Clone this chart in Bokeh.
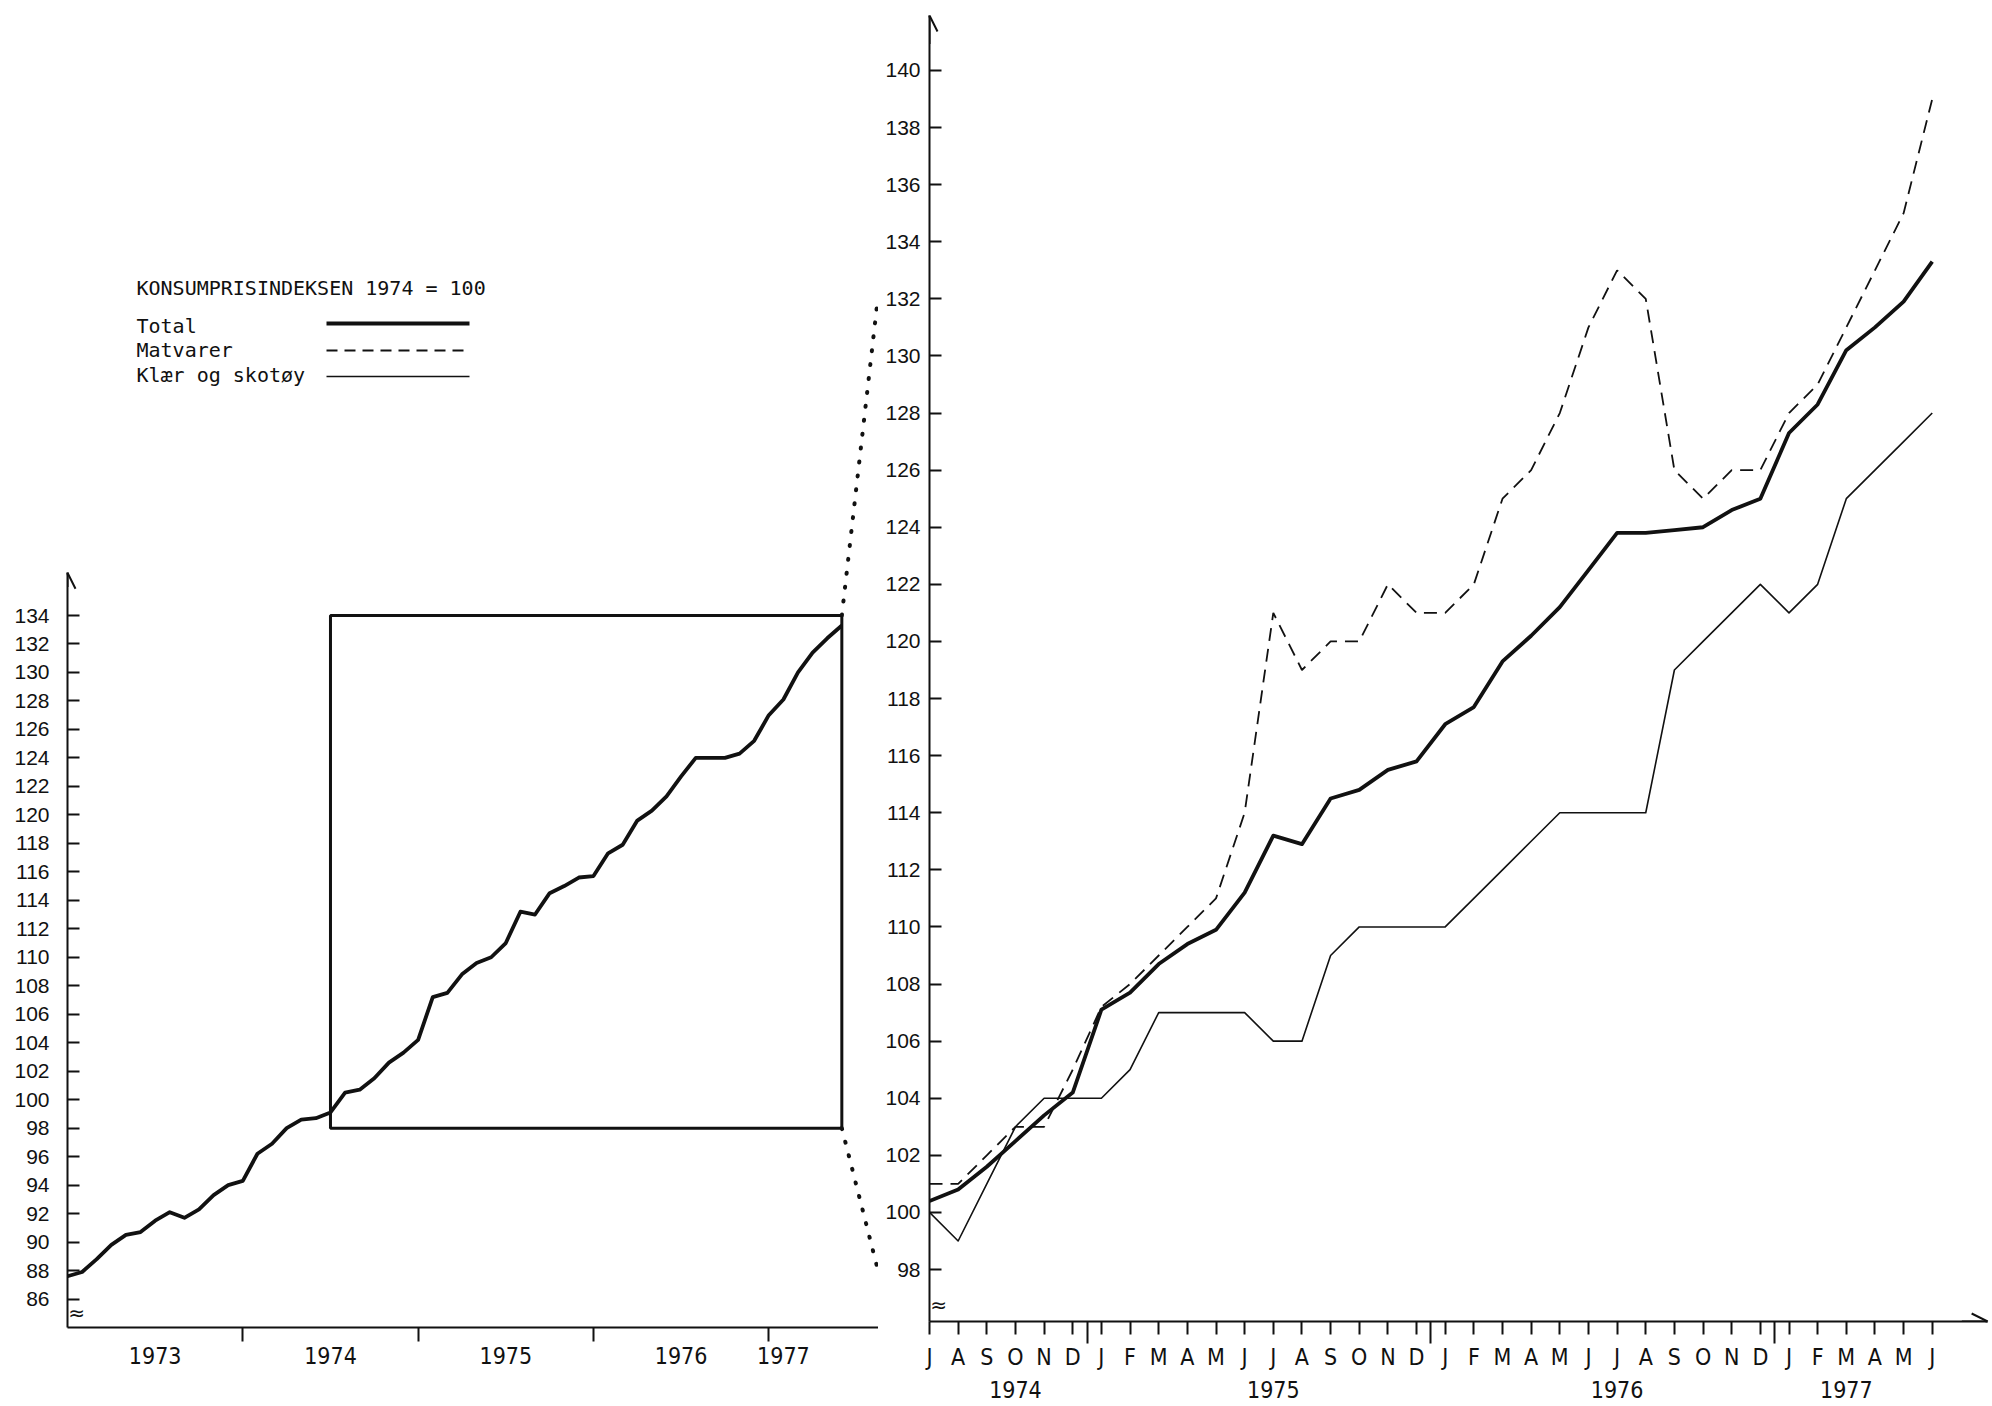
from bokeh.plotting import figure
from bokeh.models import Range1d, FixedTicker, Arrow, OpenHead, LinearAxis
from bokeh.layouts import row
from bokeh.embed import file_html
from bokeh.resources import INLINE
from bokeh.core.properties import value

# ---------------- data ----------------
# Right chart: monthly, July 1974 .. June 1977
right_month_labels = ["J", "A", "S", "O", "N", "D",
                      "J", "F", "M", "A", "M", "J", "J", "A", "S", "O", "N", "D",
                      "J", "F", "M", "A", "M", "J", "J", "A", "S", "O", "N", "D",
                      "J", "F", "M", "A", "M", "J"]
right_index = list(range(36))
total = [100.4, 100.8, 101.6, 102.5, 103.4, 104.2,
         107.1, 107.7, 108.7, 109.4, 109.9, 111.2, 113.2, 112.9, 114.5, 114.8, 115.5, 115.8,
         117.1, 117.7, 119.3, 120.2, 121.2, 122.5, 123.8, 123.8, 123.9, 124.0, 124.6, 125.0,
         127.3, 128.3, 130.2, 131.0, 131.9, 133.3]
matvarer = [101, 101, 102, 103, 103, 105,
            107.2, 108, 109, 110, 111, 114, 121, 119, 120, 120, 122, 121,
            121, 122, 125, 126, 128, 131, 133, 132, 126, 125, 126, 126,
            128, 129, 131, 133, 135, 139]
klaer_skotoy = [100, 99, 101, 103, 104, 104,
                104, 105, 107, 107, 107, 107, 106, 106, 109, 110, 110, 110,
                110, 111, 112, 113, 114, 114, 114, 114, 119, 120, 121, 122,
                121, 122, 125, 126, 127, 128]

# Left chart: Total, monthly, January 1973 .. June 1977
left_index = list(range(54))
left_total = [87.6, 87.9, 88.8, 89.8, 90.5, 90.7, 91.5, 92.1, 91.7, 92.3, 93.3, 94.0,
              94.3, 96.2, 96.9, 98.0, 98.6, 98.7,
              99.1, 100.5, 100.7, 101.5, 102.6, 103.3, 104.2, 107.2, 107.5, 108.8, 109.6, 110.0,
              111.0, 113.2, 113.0, 114.5, 115.0, 115.6, 115.7, 117.3, 117.9, 119.6, 120.3, 121.3,
              122.7, 124.0, 124.0, 124.0, 124.3, 125.2, 127.0, 128.1, 130.0, 131.4, 132.4, 133.3]

left_year_labels = ["1973", "1974", "1975", "1976", "1977"]
left_year_pos = [6, 18, 30, 42, 49]
left_year_ticks = [12, 24, 36, 48]
right_year_labels = ["1974", "1975", "1976", "1977"]
right_year_pos = [3, 12, 24, 32]
right_year_ticks = [5.5, 17.5, 29.5]
left_y_ticks = list(range(86, 135, 2))
right_y_ticks = list(range(98, 141, 2))

box_months = (18, 53)
box_values = (98, 134)
connector_right_values = (132, 98)

legend_title = "KONSUMPRISINDEKSEN 1974 = 100"
legend_labels = ["Total", "Matvarer", "Klær og skotøy"]

# --------------- layout ---------------
H = 1404
W1 = 878
W2 = 1112

L_BORDER = 67
L_TOP = 0
L_BOTTOM = H - 1327
L_PX_M = 14.61
L_PX_U = 14.24
L_X0 = 0.0
L_X1 = (W1 - L_BORDER) / L_PX_M
L_Y0 = 84.0
L_Y1 = L_Y0 + (H - L_TOP - L_BOTTOM) / L_PX_U

R_BORDER = 51
R_TOP = 15
R_BOTTOM = H - 1321
R_PX_M = 28.65
R_PX_U = 28.55
R_X0 = 0.0
R_X1 = (W2 - R_BORDER) / R_PX_M
R_Y0 = 96.18
R_Y1 = R_Y0 + (H - R_TOP - R_BOTTOM) / R_PX_U

BLACK = "#111111"
TICK_FONT = "'Liberation Sans', Arial, sans-serif"
X_FONT = "'DejaVu Sans Condensed', 'Liberation Sans Narrow', 'Liberation Sans', sans-serif"
MONO = "DejaVu Sans Mono"


def lx(px):
    return (px - L_BORDER) / L_PX_M


def ly(py):
    return L_Y1 - (py - L_TOP) / L_PX_U


def right_py(v):
    return R_TOP + (R_Y1 - v) * R_PX_U


def style(p):
    p.grid.visible = False
    p.outline_line_color = None
    p.background_fill_color = "white"
    p.border_fill_color = "white"
    p.min_border_right = 0
    if "frame_align" in p.properties():
        p.frame_align = False


# ---------------- left chart ----------------
p1 = figure(width=W1, height=H, output_backend="svg", toolbar_location=None,
            x_range=Range1d(L_X0, L_X1), y_range=Range1d(L_Y0, L_Y1),
            min_border_left=L_BORDER, min_border_bottom=L_BOTTOM, min_border_top=L_TOP)
style(p1)

ya = p1.yaxis[0]
ya.ticker = FixedTicker(ticks=left_y_ticks, minor_ticks=[])
ya.bounds = (L_Y0, 137.0)
ya.axis_line_width = 2
ya.axis_line_color = BLACK
ya.major_tick_in = 12
ya.major_tick_out = 0
ya.major_tick_line_width = 2
ya.major_tick_line_color = BLACK
ya.minor_tick_line_color = None
ya.major_label_standoff = 18
ya.major_label_text_font = TICK_FONT
ya.major_label_text_font_size = "21px"
ya.major_label_text_color = BLACK

xa = p1.xaxis[0]
xa.ticker = FixedTicker(ticks=left_year_pos, minor_ticks=left_year_ticks)
xa.major_label_overrides = {pos: lab for pos, lab in zip(left_year_pos, left_year_labels)}
xa.axis_line_width = 2
xa.axis_line_color = BLACK
xa.major_tick_in = 0
xa.major_tick_out = 0
xa.minor_tick_in = 0
xa.minor_tick_out = 14
xa.minor_tick_line_width = 2
xa.minor_tick_line_color = BLACK
xa.major_label_standoff = 5
xa.major_label_text_font = X_FONT
xa.major_label_text_font_size = "23px"
xa.major_label_text_color = BLACK

p1.add_layout(Arrow(end=OpenHead(size=16, line_width=2, line_color=BLACK),
                    x_start=0, y_start=136.0, x_end=0, y_end=137.0,
                    line_width=2, line_color=BLACK))

# axis break
p1.text(x=[0.05], y=[85.0], text=["≈"], text_font=value("DejaVu Sans"),
        text_font_size=value("20px"), text_align="left", text_baseline="middle",
        text_color=BLACK)

# zoom box
p1.quad(left=[box_months[0]], right=[box_months[1]], bottom=[box_values[0]], top=[box_values[1]],
        fill_color=None, line_color=BLACK, line_width=3)

p1.line(left_index, left_total, line_color=BLACK, line_width=3.8, line_join="round")

# dotted connectors to the right chart axis
x_end = L_X1 - 0.05
for left_v, right_v in zip(box_values[::-1], connector_right_values):
    p1.line([box_months[1], x_end], [left_v, ly(right_py(right_v))],
            line_color=BLACK, line_width=4, line_dash="1 13", line_cap="round")

# legend
leg_x = lx(136)
p1.text(x=[leg_x], y=[ly(287)], text=[legend_title], text_font=value(MONO),
        text_font_size=value("20px"), text_baseline="middle", text_color=BLACK)
p1.text(x=[leg_x] * 3, y=[ly(325), ly(349), ly(374)], text=legend_labels,
        text_font=value(MONO), text_font_size=value("20px"), text_baseline="middle",
        text_color=BLACK)
lx0, lx1 = lx(326), lx(469)
p1.line([lx0, lx1], [ly(323)] * 2, line_color=BLACK, line_width=3.8)
p1.line([lx0, lx1], [ly(350)] * 2, line_color=BLACK, line_width=1.8, line_dash="11 7")
p1.line([lx0, lx1], [ly(376)] * 2, line_color=BLACK, line_width=1.6)

# ---------------- right chart ----------------
p2 = figure(width=W2, height=H, output_backend="svg", toolbar_location=None,
            x_range=Range1d(R_X0, R_X1), y_range=Range1d(R_Y0, R_Y1),
            min_border_left=R_BORDER, min_border_bottom=R_BOTTOM, min_border_top=R_TOP)
style(p2)

ya2 = p2.yaxis[0]
ya2.ticker = FixedTicker(ticks=right_y_ticks, minor_ticks=[])
ya2.axis_line_width = 2
ya2.axis_line_color = BLACK
ya2.major_tick_in = 12
ya2.major_tick_out = 0
ya2.major_tick_line_width = 2
ya2.major_tick_line_color = BLACK
ya2.minor_tick_line_color = None
ya2.major_label_standoff = 9
ya2.major_label_text_font = TICK_FONT
ya2.major_label_text_font_size = "21px"
ya2.major_label_text_color = BLACK

xa2 = p2.xaxis[0]
xa2.ticker = FixedTicker(ticks=right_index, minor_ticks=right_year_ticks)
xa2.major_label_overrides = {i: lab for i, lab in zip(right_index, right_month_labels)}
xa2.bounds = (R_X0, R_X1 - 0.1)
xa2.axis_line_width = 2
xa2.axis_line_color = BLACK
xa2.major_tick_in = 0
xa2.major_tick_out = 13
xa2.major_tick_line_width = 2
xa2.major_tick_line_color = BLACK
xa2.minor_tick_in = 0
xa2.minor_tick_out = 22
xa2.minor_tick_line_width = 2
xa2.minor_tick_line_color = BLACK
xa2.major_label_standoff = 0
xa2.major_label_text_font = X_FONT
xa2.major_label_text_font_size = "23px"
xa2.major_label_text_color = BLACK

year_axis = LinearAxis(ticker=FixedTicker(ticks=right_year_pos, minor_ticks=[]),
                       major_label_overrides={p: l for p, l in zip(right_year_pos, right_year_labels)},
                       axis_line_color=None, major_tick_line_color=None, minor_tick_line_color=None,
                       major_tick_in=0, major_tick_out=0, major_label_standoff=8,
                       major_label_text_font=X_FONT, major_label_text_font_size="23px",
                       major_label_text_color=BLACK)
p2.add_layout(year_axis, "below")

p2.add_layout(Arrow(end=OpenHead(size=16, line_width=2, line_color=BLACK),
                    x_start=0, y_start=R_Y1 - 1.0, x_end=0, y_end=R_Y1,
                    line_width=2, line_color=BLACK))
p2.add_layout(Arrow(end=OpenHead(size=16, line_width=2, line_color=BLACK),
                    x_start=R_X1 - 1.0, y_start=R_Y0, x_end=R_X1 - 0.1, y_end=R_Y0,
                    line_width=2, line_color=BLACK))

p2.text(x=[0.03], y=[96.75], text=["≈"], text_font=value("DejaVu Sans"),
        text_font_size=value("20px"), text_align="left", text_baseline="middle",
        text_color=BLACK)

p2.line(right_index, klaer_skotoy, line_color=BLACK, line_width=1.6, line_join="round")
p2.line(right_index, matvarer, line_color=BLACK, line_width=1.8, line_dash="13 8")
p2.line(right_index, total, line_color=BLACK, line_width=3.8, line_join="round")

layout = row(p1, p2, spacing=0)
open("out.html", "w").write(file_html(layout, INLINE))
